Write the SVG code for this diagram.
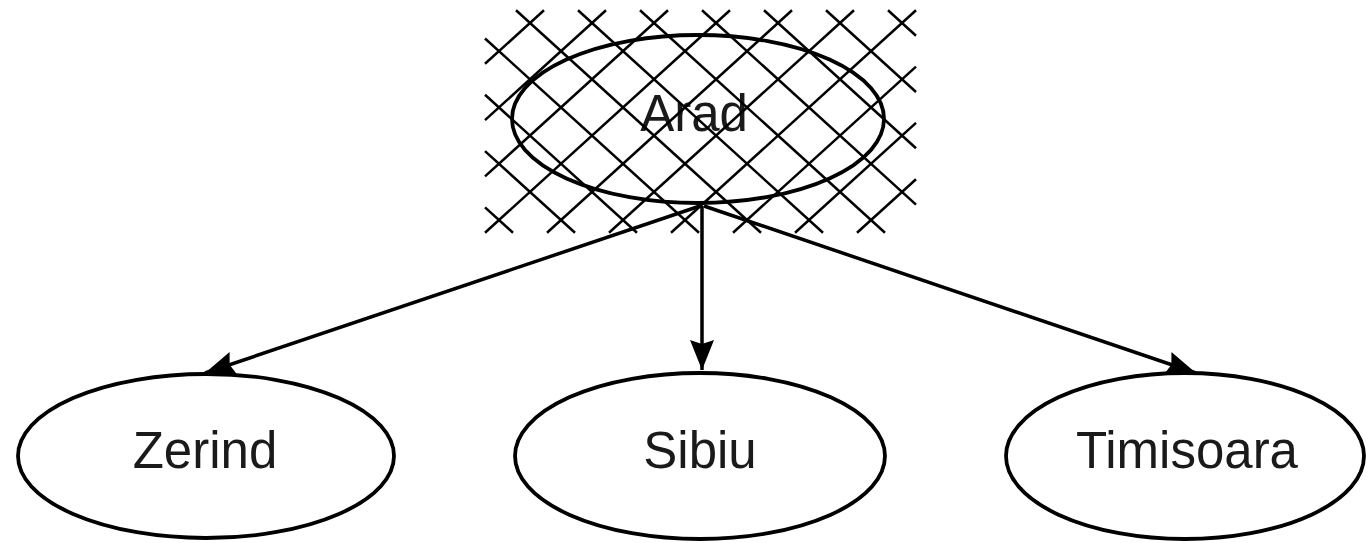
<svg xmlns="http://www.w3.org/2000/svg" width="1366" height="543" viewBox="0 0 1366 543">
  <style>
    .node { fill: none; stroke: #000; stroke-width: 3.8; }
    .label { font-family: "Liberation Sans", Arial, sans-serif; font-size: 51px; fill: #1a1a1a; text-anchor: middle; }
    .edge { stroke: #000; stroke-width: 3.5; fill: none; marker-end: url(#arrow); }
    .hatch line { stroke: #000; stroke-width: 2.5; stroke-linecap: butt; }
  </style>
  <defs>
    <marker id="arrow" markerUnits="userSpaceOnUse" viewBox="0 0 30 26" refX="30" refY="13" markerWidth="30" markerHeight="26" orient="auto">
      <path d="M0,1 L30,13 L0,25 L4,13 z" fill="#000"/>
    </marker>
  </defs>
  <rect width="1366" height="543" fill="#fff"/>
  <g id="connectors">
    <line class="edge" x1="700" y1="206" x2="205" y2="373"/>
    <line class="edge" x1="702" y1="206" x2="702" y2="370"/>
    <line class="edge" x1="704" y1="206" x2="1196" y2="373"/>
  </g>
  <g id="node-arad">
    <ellipse class="node" cx="698" cy="119" rx="186" ry="84"/>
    <text class="label" x="694" y="131">Arad</text>
    <g class="hatch">
      <line x1="485" y1="207.4" x2="513" y2="232.7"/>
      <line x1="485" y1="151.1" x2="575" y2="232.7"/>
      <line x1="485" y1="94.8" x2="637" y2="232.7"/>
      <line x1="485" y1="38.5" x2="699" y2="232.7"/>
      <line x1="516" y1="10.3" x2="761" y2="232.7"/>
      <line x1="578" y1="10.3" x2="823" y2="232.7"/>
      <line x1="640" y1="10.3" x2="885" y2="232.7"/>
      <line x1="702" y1="10.3" x2="916" y2="204.6"/>
      <line x1="764" y1="10.3" x2="916" y2="148.3"/>
      <line x1="826" y1="10.3" x2="916" y2="92"/>
      <line x1="888" y1="10.3" x2="916" y2="35.7"/>
      <line x1="544" y1="10.3" x2="485" y2="63.8"/>
      <line x1="606" y1="10.3" x2="485" y2="120.1"/>
      <line x1="668" y1="10.3" x2="485" y2="176.4"/>
      <line x1="730" y1="10.3" x2="485" y2="232.7"/>
      <line x1="792" y1="10.3" x2="547" y2="232.7"/>
      <line x1="854" y1="10.3" x2="609" y2="232.7"/>
      <line x1="916" y1="10.3" x2="671" y2="232.7"/>
      <line x1="916" y1="66.6" x2="733" y2="232.7"/>
      <line x1="916" y1="122.9" x2="795" y2="232.7"/>
      <line x1="916" y1="179.2" x2="857" y2="232.7"/>
    </g>
  </g>
  <g id="node-zerind">
    <ellipse class="node" cx="206" cy="456" rx="188" ry="82"/>
    <text class="label" x="205" y="468">Zerind</text>
  </g>
  <g id="node-sibiu">
    <ellipse class="node" cx="700" cy="456" rx="185" ry="83"/>
    <text class="label" x="700" y="468">Sibiu</text>
  </g>
  <g id="node-timisoara">
    <ellipse class="node" cx="1185" cy="456" rx="179" ry="83"/>
    <text class="label" x="1187" y="468">Timisoara</text>
  </g>
</svg>
